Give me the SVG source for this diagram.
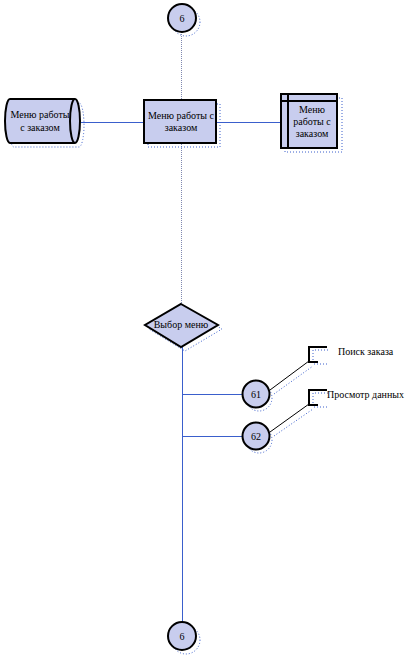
<svg xmlns="http://www.w3.org/2000/svg" width="418" height="661" viewBox="0 0 418 661">
<style>
.sh{fill:none;stroke:#3a5fcc;stroke-width:1;stroke-dasharray:1 2}
.nd{fill:#c8cdee;stroke:#000;stroke-width:2}
.t{font-family:'Liberation Serif','Times New Roman',Times,serif;font-size:10px;fill:#000;text-anchor:middle}
.tl{font-family:'Liberation Serif','Times New Roman',Times,serif;font-size:10px;fill:#000}
.ln{stroke:#3a5fcc;stroke-width:1;fill:none}
.lg{stroke:#7f88b0;stroke-width:1;fill:none;stroke-dasharray:1 1}
.lk{stroke:#000;stroke-width:1;fill:none}
.br{stroke:#000;stroke-width:2;fill:none}
</style>
<rect width="418" height="661" fill="#fff"/>
<g id="connectors">
<line class="lg" x1="181.5" y1="32" x2="181.5" y2="304"/>
<line class="ln" x1="81" y1="122.5" x2="144" y2="122.5"/>
<line class="ln" x1="216" y1="122.5" x2="281" y2="122.5"/>
<line class="ln" x1="182.5" y1="347" x2="182.5" y2="622"/>
<line class="ln" x1="182.5" y1="394.5" x2="242" y2="394.5"/>
<line class="ln" x1="182.5" y1="436.5" x2="242" y2="436.5"/>
<line class="lk" x1="270" y1="390" x2="309" y2="361"/>
<line class="lk" x1="270" y1="432" x2="309" y2="404"/>
<line class="sh" x1="274" y1="394" x2="313" y2="366"/>
<line class="sh" x1="274" y1="436" x2="313" y2="409"/>
</g>
<g id="c_top">
<circle class="sh" cx="186" cy="22" r="14"/>
<circle class="nd" cx="182" cy="18" r="14"/>
<text class="t" x="182" y="22">6</text>
</g>
<g id="cylinder">
<path class="sh" d="M14,103 H79 A5,22 0 0 1 79,147 H14 A5,22 0 0 1 14,103 Z"/>
<path class="nd" d="M10,99 H75 A5,22 0 0 1 75,143 H10 A5,22 0 0 1 10,99 Z"/>
<path class="nd" fill="none" d="M75,99 A5,22 0 0 0 75,143"/>
<text class="t" x="40" y="118">Меню работы</text>
<text class="t" x="40" y="131">с заказом</text>
</g>
<g id="center_box">
<rect class="sh" x="148" y="104" width="72" height="43"/>
<rect class="nd" x="144" y="100" width="72" height="43"/>
<text class="t" x="181" y="119">Меню работы с</text>
<text class="t" x="181" y="131">заказом</text>
</g>
<g id="right_box">
<rect class="sh" x="285" y="98" width="57" height="54"/>
<rect class="nd" x="281" y="94" width="56" height="54"/>
<line class="br" x1="288" y1="94" x2="288" y2="148"/>
<line class="br" x1="281" y1="101" x2="337" y2="101"/>
<text class="t" x="312" y="113">Меню</text>
<text class="t" x="312" y="125">работы с</text>
<text class="t" x="312" y="137">заказом</text>
</g>
<g id="diamond">
<path class="sh" d="M185,308 L222,329 L185,351 L149,329 Z"/>
<path class="nd" d="M181,304 L218,325 L181,347 L145,325 Z"/>
<text class="t" x="181" y="328">Выбор меню</text>
</g>
<g id="c61">
<circle class="sh" cx="259" cy="398" r="13"/>
<circle class="nd" cx="256" cy="394" r="13.5"/>
<text class="t" x="256" y="398">61</text>
</g>
<g id="c62">
<circle class="sh" cx="259" cy="440" r="13"/>
<circle class="nd" cx="256" cy="436" r="13.5"/>
<text class="t" x="256" y="440">62</text>
</g>
<g id="label1">
<path class="sh" d="M328,350 H313 V364 H328"/>
<path class="br" d="M327,347 H309 V362 H318"/>
<text class="tl" x="338" y="355">Поиск заказа</text>
</g>
<g id="label2">
<path class="sh" d="M328,393 H313 V407 H328"/>
<path class="br" d="M327,390 H309 V405 H318"/>
<text class="tl" x="327" y="398">Просмотр данных</text>
</g>
<g id="c_bottom">
<circle class="sh" cx="186" cy="640" r="14"/>
<circle class="nd" cx="182" cy="636" r="14"/>
<text class="t" x="182" y="640">6</text>
</g>
</svg>
